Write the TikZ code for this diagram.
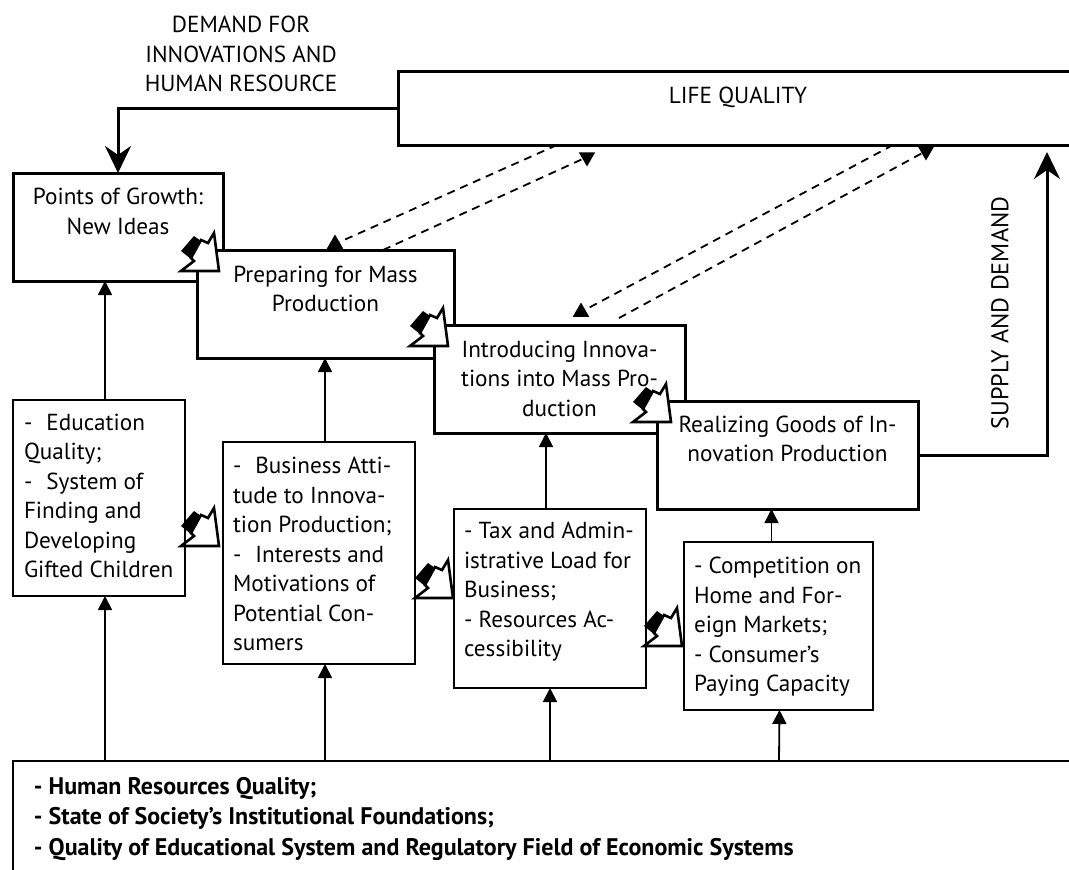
\documentclass[tikz,border=0pt]{standalone}
\usepackage{fontspec}
\setmainfont{PT Sans}
\usetikzlibrary{positioning}
\usetikzlibrary{arrows.meta}
\usetikzlibrary{shapes.geometric}
\tikzset{
        treebox/.style={draw=black, rectangle, anchor=north west, inner sep=0pt, outer sep=0pt},
        % Main stages
        box_stage/.style={treebox, fill=white, line width=3pt},
        % Factor boxes
        box_factor/.style={treebox, line width=1.8pt},
        % Text inside the boxes
        box_text/.style={inner sep=0pt, outer sep=0pt, align=center, font=\fontsize{23.2}{29.5}\selectfont},
        box_text_left/.style={box_text, align=left},
        % Connectors
        line_thin/.style={-{Triangle[length=14pt,width=14pt]}, line width=1.8pt},
        line_thick/.style={-{Stealth[length=27pt,width=26pt,inset=9pt]}, line width=3pt},
        line_dash/.style={line width=1.8pt, dash pattern=on 8pt off 6pt},
        % Tips of the dashed lines
        tip_up/.style={regular polygon, regular polygon sides=3, fill=black, inner sep=0pt, minimum size=19pt},
        tip_down/.style={tip_up, shape border rotate=180},
        % Zigzag arrows
        zigarrow/.pic={
            \draw[line width=2.6pt, fill=white, line join=miter] (0,0) -- (-5,-38) -- (-11,-28) -- (-18,-31) -- (-28,-13) -- (-25,-10) -- (-38,0) -- cycle;
            \fill[black] (-25,-35) -- (-38,-20) -- (-28,-12) -- (-18,-30) -- cycle;
        }
}
\begin{document}
\begin{tikzpicture}[x=1pt, y=-1pt]
    \clip (0,0) rectangle (1069,870);
    % zigzags under the factor boxes
    \pic (zig_edu) at (219,546) {zigarrow};
    \pic (zig_bus) at (453,598) {zigarrow};
    \pic (zig_tax) at (682,646) {zigarrow};

    % top boxes
    \node[box_stage, minimum width=680pt, minimum height=74pt] (life) at (398,71) {};
    \node[box_stage, minimum width=210pt, minimum height=108pt] (points) at (13,173) {};
    \node[box_stage, minimum width=257pt, minimum height=108pt] (prep) at (197,250) {};
    \node[box_stage, minimum width=251pt, minimum height=108pt] (intro) at (434,325) {};
    \node[box_stage, minimum width=261pt, minimum height=108pt] (real) at (657,401) {};

    % factor boxes
    \node[box_factor, minimum width=172pt, minimum height=196pt] (edu) at (13,400) {};
    \node[box_factor, minimum width=192pt, minimum height=222pt] (bus) at (223,442) {};
    \node[box_factor, minimum width=192pt, minimum height=179pt] (tax) at (454,509) {};
    \node[box_factor, minimum width=189pt, minimum height=168pt] (comp) at (684,542) {};
    \node[box_factor, minimum width=1065pt, minimum height=130pt] (base) at (13,761) {};

    % texts
    \node[box_text, below=16pt of life.north] (life_text) {LIFE QUALITY};
    \node[box_text] (top_text) at (241,54) {DEMAND FOR\\INNOVATIONS AND\\HUMAN RESOURCE};
    \node[box_text, rotate=90, font=\fontsize{24.2}{29.5}\selectfont] (supply_text) at (1000,313) {SUPPLY AND DEMAND};
    \node[box_text, below=15pt of points.north] (points_text) {Points of Growth:\\New Ideas};
    \node[box_text, below=16pt of prep.north] (prep_text) {Preparing for Mass\\Production};
    \node[box_text, below=16pt of intro.north] (intro_text) {Introducing Innova-\\tions into Mass Pro-\\duction};
    \node[box_text, below=14.5pt of real.north] (real_text) {Realizing Goods of In-\\novation Production};
    \node[box_text_left, below right=14pt and 11pt of edu.north west] (edu_text) {-\hspace{14pt}Education\\Quality;\\-\hspace{14pt}System of\\Finding and\\Developing\\Gifted Children};
    \node[box_text_left, below right=15pt and 10pt of bus.north west] (bus_text) {-\hspace{14pt}Business Atti-\\tude to Innova-\\tion Production;\\-\hspace{14pt}Interests and\\Motivations of\\Potential Con-\\sumers};
    \node[box_text_left, below right=13pt and 10pt of tax.north west] (tax_text) {- Tax and Admin-\\istrative Load for\\Business;\\- Resources Ac-\\cessibility};
    \node[box_text_left, below right=15pt and 10pt of comp.north west] (comp_text) {- Competition on\\Home and For-\\eign Markets;\\- Consumer's\\Paying Capacity};
    \node[box_text_left, font=\fontsize{24}{30.5}\selectfont\bfseries, below right=16pt and 21pt of base.north west] (base_text) {- Human Resources Quality;\\- State of Society's Institutional Foundations;\\- Quality of Educational System and Regulatory Field of Economic Systems};

    % thick connectors
    \coordinate (life_in) at (1047,152);
    \draw[line_thick] (life.west) -| ([xshift=105pt]points.north west);
    \draw[line_thick] (real.east) -| (life_in);

    % thin connectors
    \draw[line_thin] ([xshift=6pt]edu.north) -- ([xshift=6pt]edu.north |- points.south);
    \draw[line_thin] ([xshift=6pt]bus.north) -- ([xshift=6pt]bus.north |- prep.south);
    \draw[line_thin] ([xshift=-4pt]tax.north) -- ([xshift=-4pt]tax.north |- intro.south);
    \draw[line_thin] ([xshift=-7pt]comp.north) -- ([xshift=-7pt]comp.north |- real.south);
    \draw[line_thin] (base.north -| 105,0) -- ([xshift=6pt]edu.south);
    \draw[line_thin] (base.north -| 325,0) -- ([xshift=6pt]bus.south);
    \draw[line_thin] (base.north -| 550,0) -- (tax.south);
    \draw[line_thin] (base.north -| 779,0) -- ([xshift=1pt]comp.south);

    % dashed connectors
    \node[tip_up] (tip_prep) at (335,244) {};
    \node[tip_down] (tip_life_a) at (587,157) {};
    \node[tip_up] (tip_intro) at (581,312) {};
    \node[tip_down] (tip_life_b) at (926,151) {};
    \draw[line_dash] ([xshift=159pt]life.south west) -- (tip_prep);
    \draw[line_dash] ([xshift=186pt]prep.north west) -- (tip_life_a);
    \draw[line_dash] ([xshift=495pt]life.south west) -- (tip_intro);
    \draw[line_dash] ([shift={(185pt,7pt)}]intro.north west) -- (tip_life_b);

    % zigzags over the main boxes
    \pic (zig_points) at (219,271) {zigarrow};
    \pic (zig_prep) at (448,346) {zigarrow};
    \pic (zig_intro) at (671,422) {zigarrow};
\end{tikzpicture}
\end{document}
